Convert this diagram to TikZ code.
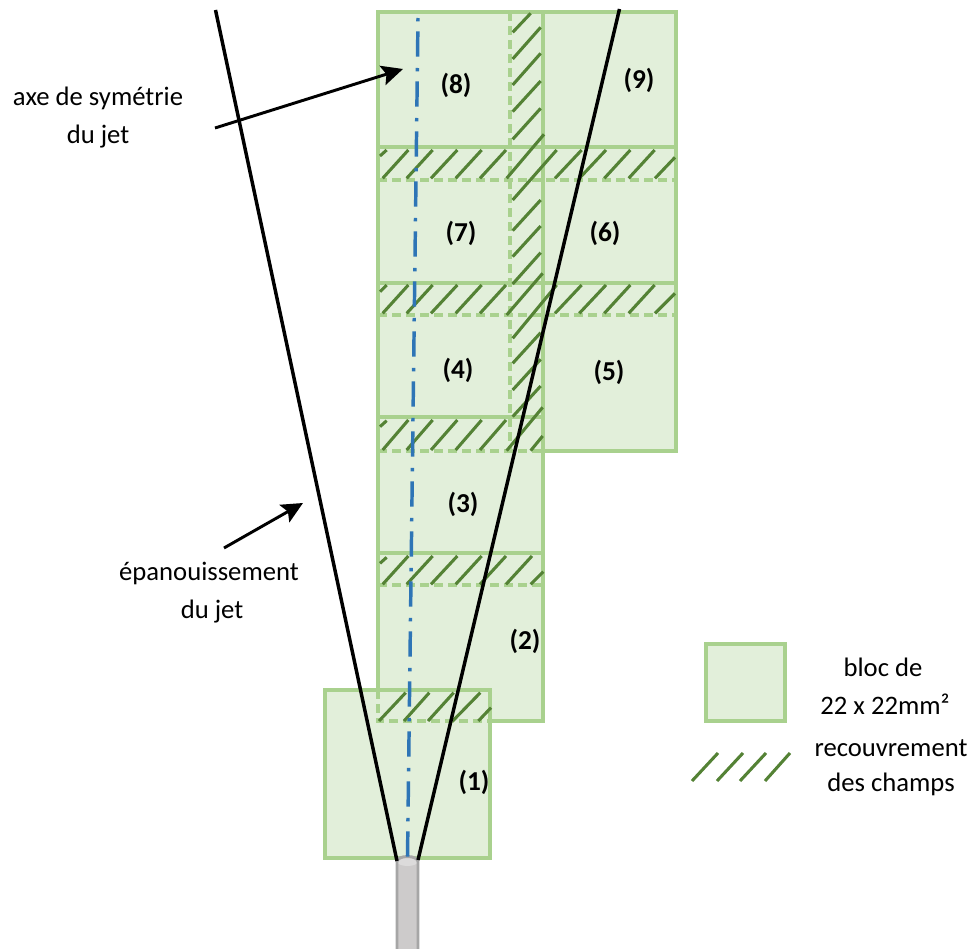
\documentclass[tikz,border=0pt]{standalone}
\usepackage{fontspec}
\setmainfont{Carlito}
\usetikzlibrary{arrows.meta}
\definecolor{blocfill}{HTML}{E2EFDA}
\definecolor{blocline}{HTML}{A9D18E}
\definecolor{hatchcol}{HTML}{548235}
\definecolor{axecol}{HTML}{2E75B6}
\definecolor{tubefill}{HTML}{CDCBCB}
\definecolor{tubeline}{HTML}{A6A6A6}
\tikzset{
  x=0.75pt,y=-0.75pt,
  blocsolid/.style={draw=blocline,line width=2.45pt},
  blocdash/.style={draw=blocline,line width=2.45pt,dash pattern=on 7pt off 3.5pt},
  hatchline/.style={draw=hatchcol,line width=2.3pt},
  jetline/.style={draw=black,line width=2.6pt},
  axeline/.style={draw=axecol,line width=2.6pt,dash pattern=on 2.5pt off 7.5pt on 19pt off 8.5pt},
  fleche/.style={draw=black,line width=2.2pt,-{Stealth[length=16pt,width=15pt,inset=3pt]}},
  txt/.style={font=\fontsize{20pt}{24pt}\selectfont,inner sep=0pt},
  num/.style={font=\fontsize{20.5pt}{24pt}\selectfont\bfseries,inner sep=0pt},
}
\begin{document}
\begin{tikzpicture}
\useasboundingbox (0,0) rectangle (972,949);
% fills
\fill[blocfill] (378,12) rectangle (676,451);
\fill[blocfill] (378,451) rectangle (543,721);
\fill[blocfill] (325,690) rectangle (490,858);
\fill[blocfill] (706,644) rectangle (785,721);
% solid outlines
\draw[blocsolid,line join=miter] (378,690) -- (378,12) -- (676,12) -- (676,451) -- (543,451);
\draw[blocsolid] (543,12) -- (543,721) -- (490,721);
\draw[blocsolid] (378,147) -- (676,147);
\draw[blocsolid] (378,283) -- (676,283);
\draw[blocsolid] (378,417) -- (543,417);
\draw[blocsolid] (378,553) -- (543,553);
\draw[blocsolid] (325,690) rectangle (490,858);
\draw[blocsolid] (706,644) rectangle (785,721);
% dashed outlines
\draw[blocdash] (510,12) -- (510,451);
\draw[blocdash] (378,180) -- (676,180);
\draw[blocdash] (378,315) -- (676,315);
\draw[blocdash] (378,451) -- (543,451);
\draw[blocdash] (378,585) -- (543,585);
\draw[blocdash] (378,690) -- (378,721) -- (490,721);
% hatching, upper part (coordinates of a 3x view)
\begin{scope}[shift={(370,0)},scale=1/3]
\foreach \a/\b/\c/\d in {
 30/468/50/450, 38/535/115/450, 110/535/188/450, 183/535/262/450, 257/535/335/450, 330/535/408/450,
 410/535/522/403, 428/600/560/450, 555/535/635/450, 628/535/708/450, 703/535/781/450, 776/535/854/450, 855/535/915/472,
 428/97/482/40, 428/177/512/82, 428/255/512/160, 428/335/512/243, 428/418/512/325,
 428/692/512/600, 428/770/512/678, 428/852/512/758, 410/945/518/820}
  \draw[hatchline] (\a,\b) -- (\c,\d);
\end{scope}
\begin{scope}[shift={(370,280)},scale=1/3]
\foreach \a/\b/\c/\d in {
 30/35/50/15, 38/100/115/15, 110/100/188/15, 183/100/262/15, 257/100/335/15, 330/100/408/15,
 428/175/560/15, 555/100/635/15, 628/100/708/15, 703/100/781/15, 776/100/854/15, 855/100/915/40,
 428/250/512/158, 428/330/512/238, 428/410/512/318, 410/512/518/382, 482/512/518/468,
 30/440/50/422, 38/510/115/420, 110/510/188/420, 183/510/262/420, 257/510/335/420, 330/510/408/420,
 30/850/50/832, 38/913/115/828, 110/913/188/828, 183/913/262/828, 257/913/335/828, 330/913/408/828, 408/913/486/828, 482/913/520/875}
  \draw[hatchline] (\a,\b) -- (\c,\d);
\end{scope}
\begin{scope}[shift={(310,670)},scale=1/3]
\foreach \a/\b/\c/\d in {207/153/287/68, 282/153/358/68, 354/153/431/68, 428/153/511/68, 505/153/543/113}
  \draw[hatchline] (\a,\b) -- (\c,\d);
\end{scope}
% legend hatching
\foreach \a/\c in {692/718, 717/743, 740/766, 765/790}
  \draw[hatchline] (\a,781) -- (\c,753);
% tube
\fill[tubefill] (397,860) -- (397,949) -- (418,949) -- (418,860) -- cycle;
\fill[tubefill!70!white] (407.5,861.5) ellipse[x radius=10.5,y radius=4.5];
\draw[tubeline,line width=2.2pt] (397,949) -- (397,861.5) arc[start angle=180,end angle=360,x radius=10.5,y radius=5] -- (418,949);
% axis
\coordinate (axetop) at (418,18);
\coordinate (axebot) at (407.5,858);
\draw[axeline] (axetop) -- (axebot);
% jet limits
\coordinate (jetLtop) at (215.5,10);
\coordinate (jetLbot) at (397,861);
\coordinate (jetRtop) at (619.5,9);
\coordinate (jetRbot) at (418,860);
\draw[jetline] (jetLtop) -- (jetLbot);
\draw[jetline] (jetRtop) -- (jetRbot);
% arrows
\coordinate (a1s) at (215,128);
\coordinate (a1e) at (403,69);
\coordinate (a2s) at (224,548);
\coordinate (a2e) at (303,503);
\draw[fleche] (a1s) -- (a1e);
\draw[fleche] (a2s) -- (a2e);
% numbers
\node[num] (n8) at (456,85) {(8)};
\node[num] (n9) at (639,80) {(9)};
\node[num] (n7) at (461,233) {(7)};
\node[num] (n6) at (605,233) {(6)};
\node[num] (n4) at (458,370) {(4)};
\node[num] (n5) at (609,372) {(5)};
\node[num] (n3) at (463,504) {(3)};
\node[num] (n2) at (525,641) {(2)};
\node[num] (n1) at (474,782) {(1)};
% texts
\node[txt] (t1) at (98,98) {axe de symétrie};
\node[txt] (t2) at (98,137) {du jet};
\node[txt] (t3) at (209,573) {épanouissement};
\node[txt] (t4) at (212,612) {du jet};
\node[txt] (t5) at (883,667) {bloc de};
\node[txt] (t6) at (885,704) {22 x 22mm²};
\node[txt] (t7) at (891,748) {recouvrement};
\node[txt] (t8) at (891,784) {des champs};
\end{tikzpicture}
\end{document}
